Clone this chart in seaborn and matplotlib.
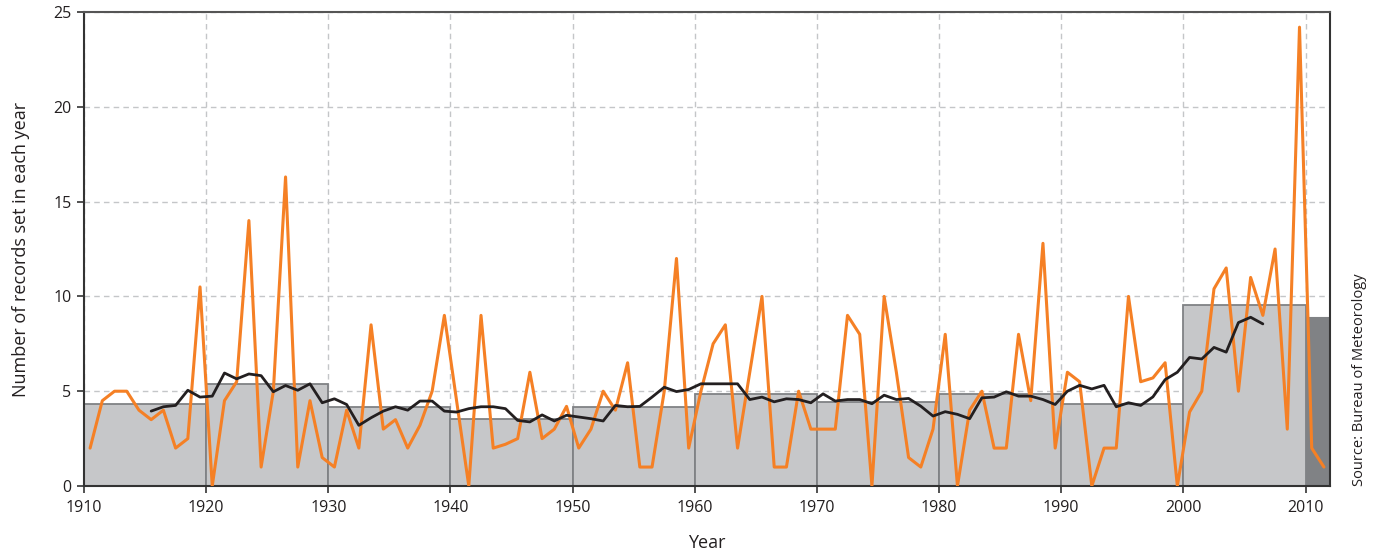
import numpy as np
import pandas as pd
import matplotlib
matplotlib.use("Agg")
import matplotlib.pyplot as plt
import seaborn as sns

# yearly record counts, 1910-2011
years = list(range(1910, 2012))
records = [
    2, 4.5, 5, 5, 4, 3.5, 4, 2, 2.5, 10.5,          # 1910s
    0, 4.5, 5.5, 14, 1, 5, 16.3, 1, 4.5, 1.5,       # 1920s
    1, 4, 2, 8.5, 3, 3.5, 2, 3.2, 5, 9,             # 1930s
    4.5, 0, 9, 2, 2.2, 2.5, 6, 2.5, 3, 4.2,         # 1940s
    2, 3, 5, 4, 6.5, 1, 1, 5, 12, 2,                # 1950s
    5, 7.5, 8.5, 2, 6, 10, 1, 1, 5, 3,              # 1960s
    3, 3, 9, 8, 0, 10, 6, 1.5, 1, 3,                # 1970s
    8, 0, 4, 5, 2, 2, 8, 4.5, 12.8, 2,              # 1980s
    6, 5.5, 0, 2, 2, 10, 5.5, 5.7, 6.5, 0,          # 1990s
    3.9, 5, 10.4, 11.5, 5, 11, 9, 12.5, 3, 24.2,    # 2000s
    2, 1,                                           # 2010-11
]

# 11-year running mean, 1915-2006
avg_years = list(range(1915, 2007))
avg_records = [
    3.95, 4.18, 4.25, 5.05, 4.69,
    4.74, 5.96, 5.65, 5.91, 5.82, 4.97, 5.3, 5.05, 5.39, 4.39,
    4.6, 4.3, 3.2, 3.6, 3.95, 4.18, 4.0, 4.48, 4.48, 3.95,
    3.9, 4.08, 4.18, 4.18, 4.08, 3.46, 3.38, 3.75, 3.43, 3.73,
    3.64, 3.55, 3.43, 4.25, 4.18, 4.2, 4.69, 5.21, 4.98, 5.09,
    5.39, 5.39, 5.39, 5.39, 4.56, 4.69, 4.44, 4.6, 4.56, 4.39,
    4.86, 4.48, 4.56, 4.56, 4.34, 4.79, 4.56, 4.62, 4.21, 3.69,
    3.92, 3.78, 3.55, 4.65, 4.69, 4.97, 4.74, 4.74, 4.56, 4.3,
    5.0, 5.31, 5.12, 5.31, 4.18, 4.39, 4.25, 4.7, 5.61, 6.0,
    6.78, 6.7, 7.31, 7.06, 8.62, 8.9, 8.55,
]

# decadal averages
decades = [1910, 1920, 1930, 1940, 1950, 1960, 1970, 1980, 1990, 2000]
decade_means = [4.34, 5.39, 4.18, 3.55, 4.16, 4.86, 4.44, 4.86, 4.32, 9.57]
recent_start = 2010
recent_width = 2
recent_mean = 8.93

ORANGE = "#f58025"
BLACK = "#231f20"
BAR = "#c6c7c9"
BAR_EDGE = "#808285"
DARK_BAR = "#808285"

sns.set_style("white")
plt.rcParams["font.family"] = ["Open Sans", "DejaVu Sans"]

fig = plt.figure(figsize=(13.79, 5.55), dpi=100)
ax = fig.add_axes([0.0609, 0.1243, 0.9036, 0.8541])

# decade bars
ax.bar(decades, decade_means, width=10, align="edge", color=BAR,
       edgecolor=BAR_EDGE, linewidth=1.3, zorder=2)
ax.bar([recent_start], [recent_mean], width=recent_width, align="edge",
       color=DARK_BAR, edgecolor=DARK_BAR, linewidth=0.8, zorder=2)

yearly = pd.DataFrame({"year": np.array(years) + 0.5, "records": records})
running = pd.DataFrame({"year": np.array(avg_years) + 0.5, "records": avg_records})

sns.lineplot(data=yearly, x="year", y="records", color=ORANGE, lw=2.2,
             ax=ax, zorder=3)
sns.lineplot(data=running, x="year", y="records", color=BLACK, lw=2.0,
             ax=ax, zorder=4)

ax.set_xlim(1910, 2012)
ax.set_ylim(0, 25)
ax.set_xticks(range(1910, 2011, 10))
ax.set_yticks(range(0, 26, 5))
ax.grid(True, color="#c4c6c8", linestyle=(0, (4, 3)), linewidth=1.0, zorder=0)
ax.set_axisbelow(True)

for side in ["left", "bottom", "top", "right"]:
    ax.spines[side].set_color("#333333")
    ax.spines[side].set_linewidth(1.5)
ax.spines["top"].set_color("#555555")

ax.tick_params(axis="both", direction="out", length=5, width=1.2,
               color="#333333", labelsize=11.5, labelcolor="#231f20")
ax.tick_params(axis="x", bottom=True, pad=5)
ax.tick_params(axis="y", left=True, pad=4)

ax.set_xlabel("Year", fontsize=13, color="#231f20", labelpad=13)
ax.set_ylabel("Number of records set in each year", fontsize=13,
              color="#231f20", labelpad=17)

fig.text(0.986, 0.124, "Source: Bureau of Meteorology", rotation=90,
         ha="center", va="bottom", fontsize=10.5, color="#231f20")

fig.savefig("out.png", dpi=100)
plt.close(fig)
